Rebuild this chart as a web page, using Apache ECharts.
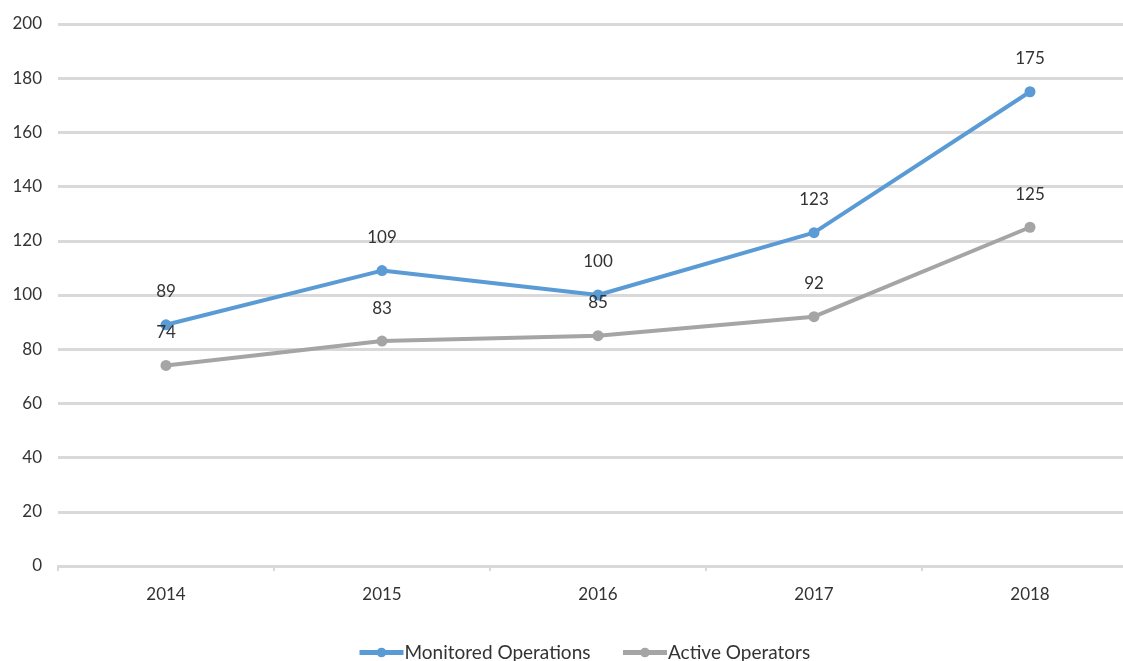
<!DOCTYPE html>
<html>
<head>
<meta charset="utf-8">
<script src="https://cdn.jsdelivr.net/npm/echarts@6/dist/echarts.min.js"></script>
<style>
  html, body { margin: 0; padding: 0; background: #ffffff; }
  #chart { width: 1123px; height: 661px; }
</style>
</head>
<body>
<div id="chart"></div>
<script>
// Yearly counts
const years = ['2014', '2015', '2016', '2017', '2018'];
const monitoredOperations = [89, 109, 100, 123, 175];
const activeOperators = [74, 83, 85, 92, 125];
const yTicks = { min: 0, max: 200, interval: 20 };

const FONT = 'Lato, "Open Sans", sans-serif';
const TEXT = '#333333';

const chart = echarts.init(document.getElementById('chart'), null, { renderer: 'canvas' });

function lineSeries(name, data, color) {
  return {
    name: name,
    type: 'line',
    data: data,
    symbol: 'circle',
    symbolSize: 11,
    lineStyle: { color: color, width: 4 },
    itemStyle: { color: color },
    label: {
      show: true,
      position: 'top',
      distance: 19,
      color: TEXT,
      fontFamily: FONT,
      fontSize: 17
    },
    animation: false
  };
}

chart.setOption({
  animation: false,
  grid: { left: 58, width: 1080, top: 24, bottom: 95, outerBoundsMode: 'none', containLabel: false },
  xAxis: {
    type: 'category',
    data: years,
    boundaryGap: true,
    axisLine: { lineStyle: { color: '#d9d9d9', width: 2 } },
    axisTick: { show: true, length: 5, lineStyle: { color: '#d9d9d9', width: 2 } },
    axisLabel: { color: TEXT, fontFamily: FONT, fontSize: 17, margin: 20 }
  },
  yAxis: {
    type: 'value',
    min: yTicks.min,
    max: yTicks.max,
    interval: yTicks.interval,
    axisLine: { show: false },
    axisTick: { show: false },
    axisLabel: { color: TEXT, fontFamily: FONT, fontSize: 17, margin: 16 },
    splitLine: { lineStyle: { color: '#d9d9d9', width: 3 } }
  },
  legend: {
    bottom: -6,
    left: 352,
    itemWidth: 44,
    itemHeight: 12,
    itemGap: 30,
    lineStyle: { width: 5 },
    textStyle: { color: TEXT, fontFamily: FONT, fontSize: 19, padding: [0, 0, 0, -4] },
    data: ['Monitored Operations', 'Active Operators']
  },
  series: [
    lineSeries('Monitored Operations', monitoredOperations, '#5b9bd5'),
    lineSeries('Active Operators', activeOperators, '#a5a5a5')
  ]
});
</script>
</body>
</html>
